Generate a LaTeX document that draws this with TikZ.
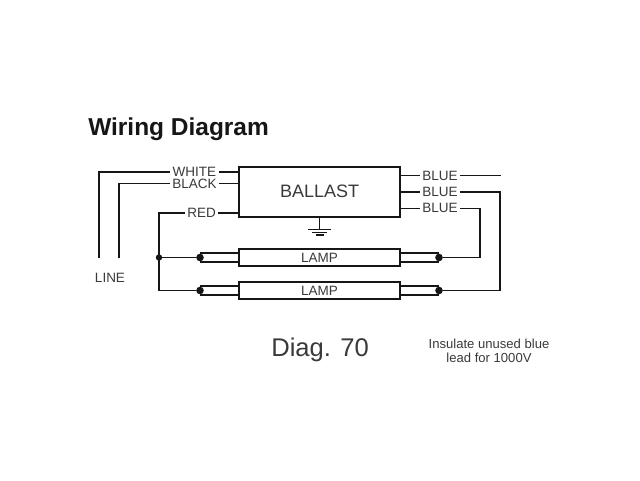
\documentclass[tikz,border=0pt]{standalone}
\usepackage{fontspec}
\setmainfont{Liberation Sans}
\definecolor{wireInk}{HTML}{161616}
\definecolor{labelInk}{HTML}{3A3A3A}
\usetikzlibrary{calc,positioning}
\tikzset{
  wire/.style={wireInk, line width=1.2pt},
  unitbox/.style={draw=wireInk, line width=1.4pt, fill=white, minimum width=4.025cm, inner sep=0pt},
  leadlabel/.style={font=\fontsize{9.6}{11}\selectfont, text=labelInk, inner sep=1.5pt},
  pindot/.style={circle, fill=wireInk, minimum size=0.19cm, inner sep=0pt},
  joindot/.style={circle, fill=wireInk, minimum size=0.16cm, inner sep=0pt}
}
\begin{document}
\begin{tikzpicture}
  \useasboundingbox (0,0) rectangle (16,12);
  \fill[white] (0,0) rectangle (16,12);

  % Title and notes
  \node[anchor=base west, inner sep=0pt, font=\fontsize{17.4}{20}\selectfont\bfseries, text=wireInk] (title) at (2.2,8.625) {Wiring Diagram};
  \node[anchor=base west, inner sep=0pt, font=\fontsize{18.2}{20}\selectfont, text=labelInk] (diag) at (6.775,3.1) {Diag. 70};
  \node[align=center, inner sep=0pt, font=\fontsize{9.3}{10}\selectfont, text=labelInk] (note) at (12.225,3.225) {Insulate unused blue\\lead for 1000V};
  \node[leadlabel] (line) at (2.75,5.05) {LINE};

  % Ballast and the two lamps
  \node[unitbox, minimum height=1.25cm, font=\fontsize{12.8}{14}\selectfont, text=labelInk] (ballast) at (7.99,7.2) {\raisebox{1pt}{BALLAST}};
  \node[unitbox, minimum height=0.425cm, font=\fontsize{9.6}{11}\selectfont, text=labelInk] (lampA) at (7.99,5.5625) {LAMP};
  \node[unitbox, minimum height=0.425cm, font=\fontsize{9.6}{11}\selectfont, text=labelInk] (lampB) at (7.99,4.7375) {LAMP};

  % Lead labels
  \node[leadlabel] (white) at (4.86,7.7) {WHITE};
  \node[leadlabel] (black) at (4.86,7.41) {BLACK};
  \node[leadlabel] (red) at (5.04,6.675) {RED};
  \node[leadlabel] (blueA) at (11.0,7.61) {BLUE};
  \node[leadlabel] (blueB) at (11.0,7.2) {BLUE};
  \node[leadlabel] (blueC) at (11.0,6.79) {BLUE};

  % Free ends and junctions
  \coordinate (lineA) at (2.475,5.55);
  \coordinate (lineB) at (2.975,5.55);
  \coordinate (blueEnd) at (12.53,7.61);
  \node[joindot] (join) at (3.975,5.5625) {};
  \coordinate (joinB) at (3.975,4.7375);

  % Pin blocks on the lamp ends
  \node[pindot] (pinAL) at (5.0,5.5625) {};
  \node[pindot] (pinBL) at (5.0,4.7375) {};
  \node[pindot] (pinAR) at (10.975,5.5625) {};
  \node[pindot] (pinBR) at (10.975,4.7375) {};
  \foreach \pin/\lamp/\side in {pinAL/lampA/west, pinBL/lampB/west, pinAR/lampA/east, pinBR/lampB/east} {
    \draw[wire] ([yshift=3.1pt]\pin.center) -- ([yshift=3.1pt]\lamp.\side);
    \draw[wire] ([yshift=-3.1pt]\pin.center) -- ([yshift=-3.1pt]\lamp.\side);
  }

  % Leads on the left
  \draw[wire] (lineA) |- (white);
  \draw[wire] (lineB) |- (black);
  \draw[wire] (white) -- (white -| ballast.west);
  \draw[wire] (black) -- (black -| ballast.west);
  \draw[wire] (red) -- (red -| ballast.west);
  \draw[wire] (red) -| (joinB) -- (pinBL);
  \draw[wire] (join) -- (pinAL);

  % Leads on the right
  \draw[wire] (blueA) -- (blueA -| ballast.east);
  \draw[wire] (blueB) -- (blueB -| ballast.east);
  \draw[wire] (blueC) -- (blueC -| ballast.east);
  \draw[wire] (blueA) -- (blueEnd);
  \draw[wire] (blueB) -| (12.5,4.7375) -- (pinBR);
  \draw[wire] (blueC) -| (12.0,5.5625) -- (pinAR);

  % Ground
  \coordinate (gnd) at ($(ballast.south)+(0,-0.29)$);
  \draw[wire] (ballast.south) -- (gnd);
  \draw[wire] ($(gnd)+(-0.29,0)$) -- ($(gnd)+(0.29,0)$);
  \draw[wire] ($(gnd)+(-0.19,-0.07)$) -- ($(gnd)+(0.19,-0.07)$);
  \draw[wire] ($(gnd)+(-0.1,-0.14)$) -- ($(gnd)+(0.1,-0.14)$);
\end{tikzpicture}
\end{document}
